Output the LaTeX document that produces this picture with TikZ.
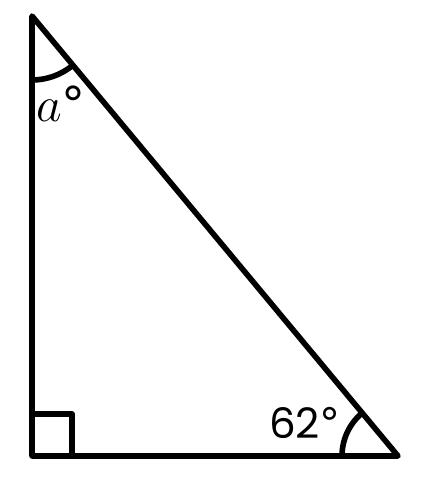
\documentclass[tikz,border=0pt]{standalone}
\usepackage{fontspec}
\newfontfamily\anglefont{Poppins}
\newfontfamily\degfont{DejaVu Sans}
\usetikzlibrary{angles,calc}
\begin{document}
\begin{tikzpicture}[x=0.5pt,y=0.5pt,line width=2.8pt,line join=round]
        \useasboundingbox (0,0) rectangle (424,480);
        %% Vertices
        \coordinate (apex) at (32,464);
        \coordinate (foot) at (32,24);
        \coordinate (tip) at (398,24);
        %% Triangle
        \draw (apex) -- (foot) -- (tip) -- cycle;
        %% Right angle
        \draw ($(foot)+(0,42)$) -- ++(40,0) -- ++(0,-42);
        %% Angles
        \pic[draw,angle radius=32pt] {angle=foot--apex--tip};
        \pic[draw,angle radius=28pt] {angle=apex--tip--foot};
        \node (alabel) at (61,376) {\fontsize{30}{32}\selectfont$a${\degfont\fontsize{24}{26}\selectfont°}};
        \node (blabel) at (305,57) {\fontsize{21}{24}\anglefont 62{\degfont°}};
    \end{tikzpicture}
\end{document}
